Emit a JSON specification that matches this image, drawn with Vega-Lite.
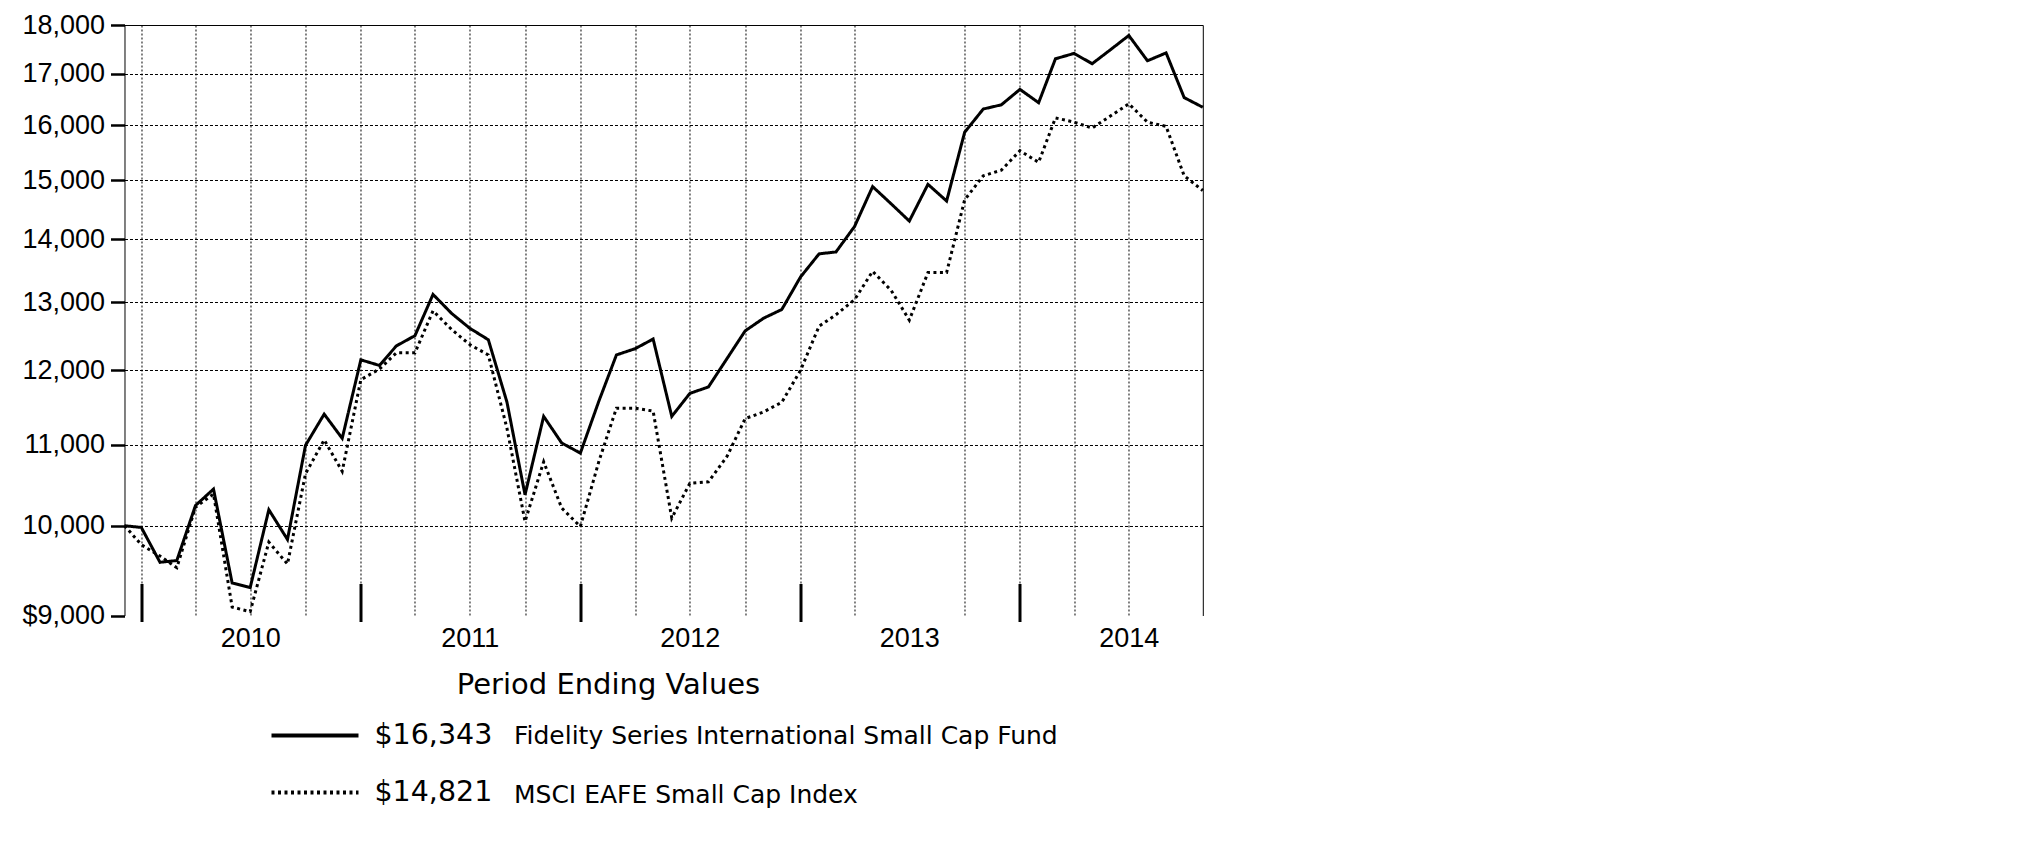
{
  "$schema": "https://vega.github.io/schema/vega-lite/v6.json",
  "width": 1078.3,
  "height": 590.5,
  "autosize": {"type": "none"},
  "padding": {"left": 124.5, "top": 25, "right": 822, "bottom": 235},
  "background": "white",
  "config": {
    "font": "Liberation Sans",
    "view": {"stroke": null},
    "axis": {"labelColor": "black", "titleColor": "black", "domainColor": "black", "tickColor": "black"}
  },
  "datasets": {
    "growth": [
      {"date": "2009-12-03", "fidelity": 10000, "msci": 10000},
      {"date": "2009-12-31", "fidelity": 9980, "msci": 9780},
      {"date": "2010-01-31", "fidelity": 9580, "msci": 9650},
      {"date": "2010-02-28", "fidelity": 9600, "msci": 9520},
      {"date": "2010-03-31", "fidelity": 10240, "msci": 10220},
      {"date": "2010-04-30", "fidelity": 10440, "msci": 10380},
      {"date": "2010-05-31", "fidelity": 9350, "msci": 9090},
      {"date": "2010-06-30", "fidelity": 9300, "msci": 9040},
      {"date": "2010-07-31", "fidelity": 10190, "msci": 9810},
      {"date": "2010-08-31", "fidelity": 9840, "msci": 9560},
      {"date": "2010-09-30", "fidelity": 10990, "msci": 10630},
      {"date": "2010-10-31", "fidelity": 11400, "msci": 11060},
      {"date": "2010-11-30", "fidelity": 11080, "msci": 10660},
      {"date": "2010-12-31", "fidelity": 12150, "msci": 11870},
      {"date": "2011-01-31", "fidelity": 12070, "msci": 12020},
      {"date": "2011-02-28", "fidelity": 12350, "msci": 12250},
      {"date": "2011-03-31", "fidelity": 12500, "msci": 12250},
      {"date": "2011-04-30", "fidelity": 13120, "msci": 12870},
      {"date": "2011-05-31", "fidelity": 12830, "msci": 12590},
      {"date": "2011-06-30", "fidelity": 12610, "msci": 12370},
      {"date": "2011-07-31", "fidelity": 12440, "msci": 12220},
      {"date": "2011-08-31", "fidelity": 11560, "msci": 11210},
      {"date": "2011-09-30", "fidelity": 10370, "msci": 10050},
      {"date": "2011-10-31", "fidelity": 11370, "msci": 10780},
      {"date": "2011-11-30", "fidelity": 11020, "msci": 10210},
      {"date": "2011-12-31", "fidelity": 10890, "msci": 9990},
      {"date": "2012-01-31", "fidelity": 11580, "msci": 10790},
      {"date": "2012-02-29", "fidelity": 12220, "msci": 11480},
      {"date": "2012-03-31", "fidelity": 12310, "msci": 11480},
      {"date": "2012-04-30", "fidelity": 12450, "msci": 11440},
      {"date": "2012-05-31", "fidelity": 11370, "msci": 10090},
      {"date": "2012-06-30", "fidelity": 11680, "msci": 10510},
      {"date": "2012-07-31", "fidelity": 11770, "msci": 10530},
      {"date": "2012-08-31", "fidelity": 12170, "msci": 10850},
      {"date": "2012-09-30", "fidelity": 12570, "msci": 11340},
      {"date": "2012-10-31", "fidelity": 12760, "msci": 11430},
      {"date": "2012-11-30", "fidelity": 12890, "msci": 11560},
      {"date": "2012-12-31", "fidelity": 13390, "msci": 12000},
      {"date": "2013-01-31", "fidelity": 13760, "msci": 12640},
      {"date": "2013-02-28", "fidelity": 13790, "msci": 12810},
      {"date": "2013-03-31", "fidelity": 14210, "msci": 13040},
      {"date": "2013-04-30", "fidelity": 14890, "msci": 13480},
      {"date": "2013-05-31", "fidelity": 14590, "msci": 13180},
      {"date": "2013-06-30", "fidelity": 14300, "msci": 12730},
      {"date": "2013-07-31", "fidelity": 14930, "msci": 13460},
      {"date": "2013-08-31", "fidelity": 14640, "msci": 13460},
      {"date": "2013-09-30", "fidelity": 15870, "msci": 14660},
      {"date": "2013-10-31", "fidelity": 16310, "msci": 15080},
      {"date": "2013-11-30", "fidelity": 16390, "msci": 15180},
      {"date": "2013-12-31", "fidelity": 16690, "msci": 15530},
      {"date": "2014-01-31", "fidelity": 16430, "msci": 15320},
      {"date": "2014-02-28", "fidelity": 17300, "msci": 16140},
      {"date": "2014-03-31", "fidelity": 17410, "msci": 16060},
      {"date": "2014-04-30", "fidelity": 17200, "msci": 15950},
      {"date": "2014-05-31", "fidelity": 17490, "msci": 16180},
      {"date": "2014-06-30", "fidelity": 17780, "msci": 16410},
      {"date": "2014-07-31", "fidelity": 17260, "msci": 16060},
      {"date": "2014-08-31", "fidelity": 17420, "msci": 15980},
      {"date": "2014-09-30", "fidelity": 16530, "msci": 15080},
      {"date": "2014-10-31", "fidelity": 16343, "msci": 14821}
    ],
    "series": [
      {"key": "fidelity", "fund": "Fidelity Series International Small Cap Fund", "ending": "$16,343"},
      {"key": "msci", "fund": "MSCI EAFE Small Cap Index", "ending": "$14,821"}
    ]
  },
  "data": {"name": "growth"},
  "transform": [
    {"fold": ["fidelity", "msci"], "as": ["key", "value"]},
    {"lookup": "key", "from": {"data": {"name": "series"}, "key": "key", "fields": ["fund", "ending"]}}
  ],
  "layer": [
    {
      "mark": {"type": "line", "strokeWidth": 3, "strokeCap": "butt", "strokeJoin": "miter"},
      "encoding": {
        "x": {
          "field": "date", "type": "temporal",
          "scale": {"type": "utc", "nice": false, "domain": [{"year": 2009, "month": 12, "date": 3, "utc": true}, {"year": 2014, "month": 10, "date": 31, "utc": true}]},
          "axis": {
            "orient": "bottom",
            "values": [
              {"year": 2009, "month": 12, "date": 31, "utc": true},
              {"year": 2010, "month": 3, "date": 31, "utc": true},
              {"year": 2010, "month": 6, "date": 30, "utc": true},
              {"year": 2010, "month": 9, "date": 30, "utc": true},
              {"year": 2010, "month": 12, "date": 31, "utc": true},
              {"year": 2011, "month": 3, "date": 31, "utc": true},
              {"year": 2011, "month": 6, "date": 30, "utc": true},
              {"year": 2011, "month": 9, "date": 30, "utc": true},
              {"year": 2011, "month": 12, "date": 31, "utc": true},
              {"year": 2012, "month": 3, "date": 31, "utc": true},
              {"year": 2012, "month": 6, "date": 30, "utc": true},
              {"year": 2012, "month": 9, "date": 30, "utc": true},
              {"year": 2012, "month": 12, "date": 31, "utc": true},
              {"year": 2013, "month": 3, "date": 31, "utc": true},
              {"year": 2013, "month": 6, "date": 30, "utc": true},
              {"year": 2013, "month": 9, "date": 30, "utc": true},
              {"year": 2013, "month": 12, "date": 31, "utc": true},
              {"year": 2014, "month": 3, "date": 31, "utc": true},
              {"year": 2014, "month": 6, "date": 30, "utc": true}
            ],
            "domain": false,
            "offset": 6,
            "grid": true,
            "gridColor": "black",
            "gridWidth": 1,
            "gridDash": [2, 2],
            "gridOpacity": {"condition": {"test": "utcyear(datum.value) == 2013 && utcmonth(datum.value) == 5", "value": 0}, "value": 1},
            "ticks": true,
            "tickSize": -38,
            "tickWidth": 3,
            "tickOpacity": {"condition": {"test": "utcmonth(datum.value) == 11", "value": 1}, "value": 0},
            "labelExpr": "utcmonth(datum.value) == 5 ? utcFormat(datum.value, '%Y') : ''",
            "labelFontSize": 27,
            "labelPadding": 42,
            "labelOverlap": false,
            "labelBound": false,
            "labelFlush": false,
            "title": "Period Ending Values",
            "titleFont": "DejaVu Sans",
            "titleFontSize": 29,
            "titleFontWeight": "normal",
            "titleAlign": "center",
            "titleBaseline": "alphabetic",
            "titleX": 483.5,
            "titleY": 72
          }
        },
        "y": {
          "field": "value", "type": "quantitative",
          "scale": {"type": "log", "domain": [9000, 18000], "nice": false, "zero": false},
          "axis": {
            "orient": "left",
            "values": [9000, 10000, 11000, 12000, 13000, 14000, 15000, 16000, 17000, 18000],
            "title": null,
            "domain": true,
            "domainWidth": 1,
            "ticks": true,
            "tickSize": 14,
            "tickWidth": 2.5,
            "labelPadding": 6,
            "labelFontSize": 27,
            "labelExpr": "datum.value == 9000 ? '$9,000' : format(datum.value, ',')",
            "grid": true,
            "gridColor": "black",
            "gridWidth": 1,
            "gridDash": [3, 2],
            "gridOpacity": {"condition": {"test": "datum.value == 9000 || datum.value == 18000", "value": 0}, "value": 1}
          }
        },
        "color": {
          "field": "fund", "type": "nominal",
          "scale": {"range": ["black", "black"]},
          "legend": {
            "orient": "none", "legendX": 364.5, "legendY": 699, "title": null, "direction": "vertical", "padding": 0,
            "symbolType": "circle", "symbolSize": 1, "symbolOpacity": 0,
            "labelFont": "DejaVu Sans", "labelFontSize": 25, "labelColor": "black", "labelOffset": 0, "labelLimit": 1000,
            "rowPadding": 33,
            "encode": {"symbols": {"update": {"opacity": {"value": 0}, "strokeOpacity": {"value": 0}, "fillOpacity": {"value": 0}}}}
          }
        },
        "strokeDash": {
          "field": "ending", "type": "nominal",
          "scale": {"domain": ["$16,343", "$14,821"], "range": [[1, 0], [3, 3.5]]},
          "legend": {
            "orient": "none", "legendX": 174, "legendY": 694, "title": null, "direction": "vertical", "padding": 0,
            "symbolType": "M-3,0H3", "symbolSize": 841, "symbolStrokeWidth": 4, "symbolStrokeColor": "black", "symbolFillColor": "transparent",
            "labelFont": "DejaVu Sans", "labelFontSize": 28.5, "labelColor": "black", "labelOffset": 43, "labelLimit": 1000,
            "rowPadding": 26,
            "encode": {"symbols": {"update": {"stroke": {"value": "black"}, "strokeWidth": {"value": 4}, "strokeDash": {"signal": "datum.value == '$14,821' ? [7, 5.5] : [1, 0]"}}}}
          }
        }
      }
    },
    {
      "mark": {"type": "line", "strokeOpacity": 0},
      "encoding": {
        "x": {
          "field": "date", "type": "temporal",
          "scale": {"type": "utc", "nice": false, "domain": [{"year": 2009, "month": 12, "date": 3, "utc": true}, {"year": 2014, "month": 10, "date": 31, "utc": true}]},
          "axis": {"orient": "top", "domain": true, "domainWidth": 1, "ticks": false, "labels": false, "grid": false, "title": null}
        },
        "y": {
          "field": "value", "type": "quantitative",
          "scale": {"type": "log", "domain": [9000, 18000], "nice": false, "zero": false},
          "axis": {"orient": "right", "domain": true, "domainWidth": 1, "ticks": false, "labels": false, "grid": false, "title": null}
        }
      }
    }
  ]
}
